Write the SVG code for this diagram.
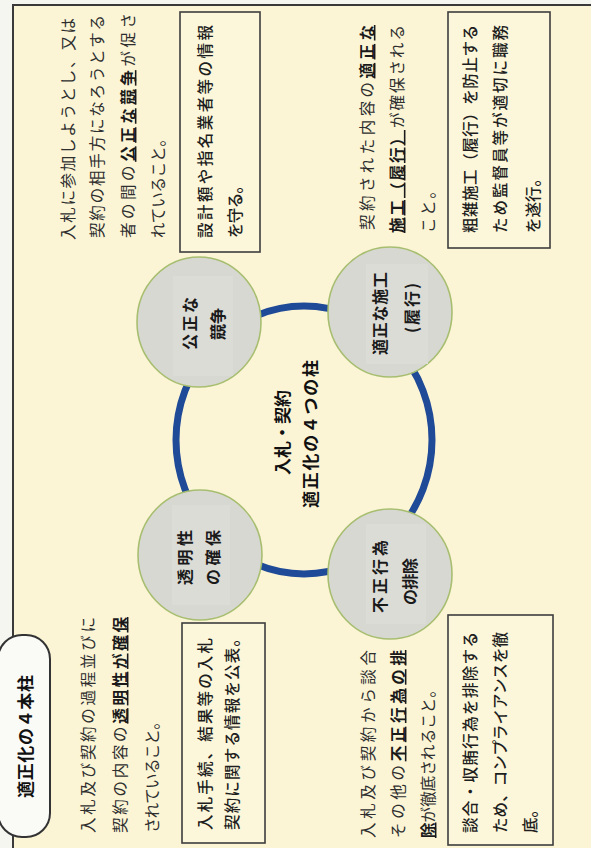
<svg xmlns="http://www.w3.org/2000/svg" width="591" height="848" viewBox="0 0 591 848">
<style>
  .t{font-family:"Noto Sans CJK JP","Noto Sans CJK SC",sans-serif;font-size:15.5px;fill:#2e2e2e;font-weight:400}
  .bx{font-family:"Noto Sans CJK JP","Noto Sans CJK SC",sans-serif;font-size:15.5px;fill:#1e1e1e;font-weight:500}
  .b{font-weight:700;text-decoration:underline;fill:#1a1a1a}
  .ct{font-family:"Noto Sans CJK JP","Noto Sans CJK SC",sans-serif;font-size:16px;fill:#1a1a1a;font-weight:700}
  .hd{font-family:"Noto Sans CJK JP","Noto Sans CJK SC",sans-serif;font-size:17px;fill:#111;font-weight:700}
  .box{fill:#FCF7DA;stroke:#3d3d3d;stroke-width:1.6}
  .circ{fill:#D8D8D2;stroke:#A7BE70;stroke-width:1.6}
  .inner{fill:#DCDCD7}
  .ring{fill:none;stroke:#1F4A97;stroke-width:7}
</style>
<rect x="0" y="0" width="591" height="848" fill="#F6F6F1"/>
<g transform="translate(0,848) rotate(-90)">
  <rect id="frame" x="-10" y="13" width="853" height="600" fill="#FBF5D6" stroke="#3a3a3a" stroke-width="2"/>

  <g id="connectors">
    <ellipse class="ring" cx="408" cy="304" rx="134" ry="128"/>
  </g>

  <g id="title">
    <rect x="11" y="-2" width="202" height="52" rx="24" fill="#FAFAF7" stroke="#333" stroke-width="2"/>
    <text class="hd" x="50" y="31.5" textLength="123" lengthAdjust="spacing">適正化の４本柱</text>
  </g>

  <g id="node-center">
    <text class="hd" x="373" y="288.5" textLength="85" lengthAdjust="spacing">入札・契約</text>
    <text class="hd" x="340" y="316.5" textLength="148" lengthAdjust="spacing">適正化の４つの柱</text>
  </g>

  <g id="node-kousei">
    <ellipse class="circ" cx="526" cy="199" rx="65" ry="62"/>
    <rect class="inner" x="472" y="173" width="100" height="60"/>
    <text class="ct" x="498" y="196" textLength="53" lengthAdjust="spacing">公正な</text>
    <text class="ct" x="508" y="224" textLength="32" lengthAdjust="spacing">競争</text>
  </g>

  <g id="node-tekisei">
    <ellipse class="circ" cx="536" cy="390" rx="65" ry="62"/>
    <rect class="inner" x="484" y="366" width="100" height="62"/>
    <text class="ct" x="493" y="386" textLength="83" lengthAdjust="spacing">適正な施工</text>
    <text class="ct" x="515" y="418" textLength="50" lengthAdjust="spacing">(履行)</text>
  </g>

  <g id="node-toumei">
    <ellipse class="circ" cx="293" cy="200" rx="65" ry="62"/>
    <rect class="inner" x="243" y="172" width="100" height="58"/>
    <text class="ct" x="263" y="191" textLength="55" lengthAdjust="spacing">透明性</text>
    <text class="ct" x="263" y="219" textLength="55" lengthAdjust="spacing">の確保</text>
  </g>

  <g id="node-fusei">
    <ellipse class="circ" cx="274" cy="390" rx="65" ry="62"/>
    <rect class="inner" x="224" y="366" width="100" height="60"/>
    <text class="ct" x="235" y="386" textLength="73" lengthAdjust="spacing">不正行為</text>
    <text class="ct" x="243" y="416" textLength="47" lengthAdjust="spacing">の排除</text>
  </g>

  <g id="text-kousei">
    <text class="t" x="608" y="73.9" textLength="222" lengthAdjust="spacing">入札に参加しようとし、又は</text>
    <text class="t" x="610" y="102.9" textLength="223" lengthAdjust="spacing">契約の相手方になろうとする</text>
    <text class="t" x="610" y="133.9" textLength="225" lengthAdjust="spacing">者の間の<tspan class="b">公正な競争</tspan>が促さ</text>
    <text class="t" x="610" y="163.9" textLength="107" lengthAdjust="spacing">れていること。</text>
  </g>
  <g id="box-kousei">
    <rect class="box" x="596" y="180" width="240" height="80"/>
    <text class="bx" x="610" y="210.9" textLength="213" lengthAdjust="spacing">設計額や指名業者等の情報</text>
    <text class="bx" x="610" y="240.9" textLength="60" lengthAdjust="spacing">を守る。</text>
  </g>

  <g id="text-tekisei">
    <text class="t" x="618" y="372.9" textLength="205" lengthAdjust="spacing">契約された内容の<tspan class="b">適正な</tspan></text>
    <text class="t" x="615" y="402.9" textLength="208" lengthAdjust="spacing"><tspan class="b">施工（履行）</tspan>が確保される</text>
    <text class="t" x="615" y="433.9" textLength="50" lengthAdjust="spacing">こと。</text>
  </g>
  <g id="box-tekisei">
    <rect class="box" x="600" y="448" width="236" height="102"/>
    <text class="bx" x="615" y="475.9" textLength="208" lengthAdjust="spacing">粗雑施工（履行）を防止する</text>
    <text class="bx" x="615" y="505.9" textLength="208" lengthAdjust="spacing">ため監督員等が適切に職務</text>
    <text class="bx" x="615" y="538.9" textLength="62" lengthAdjust="spacing">を遂行。</text>
  </g>

  <g id="text-toumei">
    <text class="t" x="15" y="93.9" textLength="216" lengthAdjust="spacing">入札及び契約の過程並びに</text>
    <text class="t" x="15" y="125.9" textLength="216" lengthAdjust="spacing">契約の内容の<tspan class="b">透明性が確保</tspan></text>
    <text class="t" x="15" y="157.9" textLength="119" lengthAdjust="spacing">されていること。</text>
  </g>
  <g id="box-toumei">
    <rect class="box" x="5" y="182" width="220" height="83"/>
    <text class="bx" x="18" y="210.9" textLength="192" lengthAdjust="spacing">入札手続、結果等の入札</text>
    <text class="bx" x="18" y="237.9" textLength="199" lengthAdjust="spacing">契約に関する情報を公表。</text>
  </g>

  <g id="text-fusei">
    <text class="t" x="10" y="373.9" textLength="188" lengthAdjust="spacing">入札及び契約から談合</text>
    <text class="t" x="10" y="403.9" textLength="188" lengthAdjust="spacing">その他の<tspan class="b">不正行為の排</tspan></text>
    <text class="t" x="10" y="433.9" textLength="156" lengthAdjust="spacing"><tspan class="b">除</tspan>が徹底されること。</text>
  </g>
  <g id="box-fusei">
    <rect class="box" x="3" y="448" width="230" height="105"/>
    <text class="bx" x="15" y="475.9" textLength="201" lengthAdjust="spacing">談合・収賄行為を排除する</text>
    <text class="bx" x="15" y="505.9" textLength="201" lengthAdjust="spacing">ため、コンプライアンスを徹</text>
    <text class="bx" x="15" y="535.9">底。</text>
  </g>
</g>
</svg>
